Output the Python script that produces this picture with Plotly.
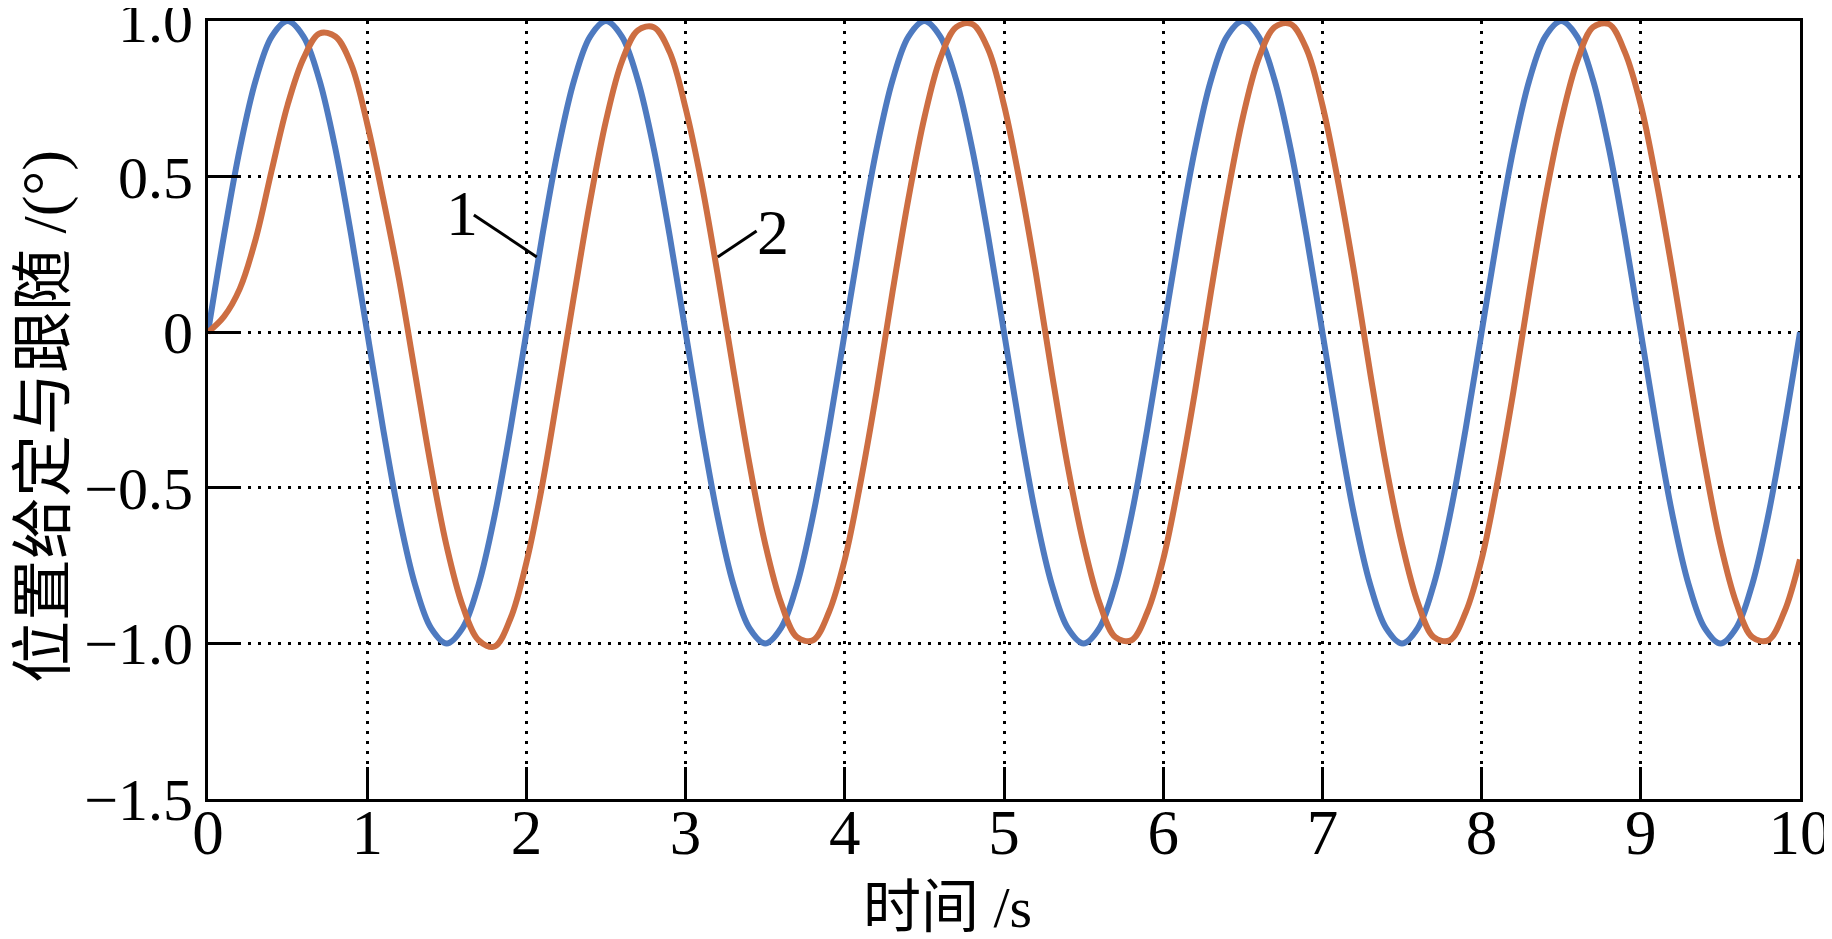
import plotly.graph_objects as go

# time samples (s)
time_s = [0.0, 0.1, 0.2, 0.3, 0.4, 0.5, 0.6, 0.7, 0.8, 0.9,
          1.0, 1.1, 1.2, 1.3, 1.4, 1.5, 1.6, 1.7, 1.8, 1.9,
          2.0, 2.1, 2.2, 2.3, 2.4, 2.5, 2.6, 2.7, 2.8, 2.9,
          3.0, 3.1, 3.2, 3.3, 3.4, 3.5, 3.6, 3.7, 3.8, 3.9,
          4.0, 4.1, 4.2, 4.3, 4.4, 4.5, 4.6, 4.7, 4.8, 4.9,
          5.0, 5.1, 5.2, 5.3, 5.4, 5.5, 5.6, 5.7, 5.8, 5.9,
          6.0, 6.1, 6.2, 6.3, 6.4, 6.5, 6.6, 6.7, 6.8, 6.9,
          7.0, 7.1, 7.2, 7.3, 7.4, 7.5, 7.6, 7.7, 7.8, 7.9,
          8.0, 8.1, 8.2, 8.3, 8.4, 8.5, 8.6, 8.7, 8.8, 8.9,
          9.0, 9.1, 9.2, 9.3, 9.4, 9.5, 9.6, 9.7, 9.8, 9.9,
          10.0]

# curve 1: position command (deg)
given = [0.0, 0.31, 0.59, 0.81, 0.95, 1.0, 0.95, 0.81, 0.59, 0.31,
         0.0, -0.31, -0.59, -0.81, -0.95, -1.0, -0.95, -0.81, -0.59, -0.31,
         0.0, 0.31, 0.59, 0.81, 0.95, 1.0, 0.95, 0.81, 0.59, 0.31,
         0.0, -0.31, -0.59, -0.81, -0.95, -1.0, -0.95, -0.81, -0.59, -0.31,
         0.0, 0.31, 0.59, 0.81, 0.95, 1.0, 0.95, 0.81, 0.59, 0.31,
         0.0, -0.31, -0.59, -0.81, -0.95, -1.0, -0.95, -0.81, -0.59, -0.31,
         0.0, 0.31, 0.59, 0.81, 0.95, 1.0, 0.95, 0.81, 0.59, 0.31,
         0.0, -0.31, -0.59, -0.81, -0.95, -1.0, -0.95, -0.81, -0.59, -0.31,
         0.0, 0.31, 0.59, 0.81, 0.95, 1.0, 0.95, 0.81, 0.59, 0.31,
         0.0, -0.31, -0.59, -0.81, -0.95, -1.0, -0.95, -0.81, -0.59, -0.31,
         0.0]

# curve 2: position follow (deg)
follow = [0.0, 0.05, 0.14, 0.30, 0.52, 0.73, 0.88, 0.96, 0.95, 0.86,
          0.67, 0.43, 0.17, -0.13, -0.43, -0.69, -0.88, -0.99, -1.01, -0.92,
          -0.74, -0.49, -0.19, 0.12, 0.42, 0.68, 0.87, 0.97, 0.98, 0.90,
          0.72, 0.48, 0.19, -0.12, -0.42, -0.68, -0.87, -0.98, -0.99, -0.90,
          -0.73, -0.48, -0.19, 0.13, 0.43, 0.69, 0.88, 0.98, 0.99, 0.91,
          0.73, 0.48, 0.19, -0.13, -0.43, -0.68, -0.87, -0.98, -0.99, -0.90,
          -0.73, -0.48, -0.19, 0.13, 0.43, 0.69, 0.88, 0.98, 0.99, 0.91,
          0.73, 0.48, 0.19, -0.13, -0.43, -0.68, -0.87, -0.98, -0.99, -0.90,
          -0.73, -0.48, -0.19, 0.13, 0.43, 0.68, 0.87, 0.98, 0.99, 0.90,
          0.73, 0.48, 0.19, -0.12, -0.42, -0.68, -0.87, -0.98, -0.99, -0.90,
          -0.73]

x_ticks = [0, 1, 2, 3, 4, 5, 6, 7, 8, 9, 10]
x_tick_text = ["0", "1", "2", "3", "4", "5", "6", "7", "8", "9", "10"]
y_ticks = [1.0, 0.5, 0.0, -0.5, -1.0, -1.5]
y_tick_text = ["1.0", "0.5", "0", "\u22120.5", "\u22121.0", "\u22121.5"]

BLUE = "#4E7AC0"
ORANGE = "#CD6E42"
FONT = "Liberation Serif, Times New Roman, Noto Sans CJK SC, serif"

fig = go.Figure()
fig.add_trace(go.Scatter(x=time_s, y=given, mode="lines",
                         line=dict(color=BLUE, width=6, shape="spline", smoothing=1.0),
                         showlegend=False))
fig.add_trace(go.Scatter(x=time_s, y=follow, mode="lines",
                         line=dict(color=ORANGE, width=6, shape="spline", smoothing=1.0),
                         showlegend=False))

axis_common = dict(
    showline=True, linecolor="black", linewidth=3, mirror=True,
    ticks="inside", ticklen=32, tickwidth=3, tickcolor="black",
    showgrid=True, gridcolor="black", gridwidth=3, griddash="3px,7px",
    zeroline=False, automargin=False, ticklabeloverflow="allow",
)

fig.update_xaxes(range=[0, 10], tickvals=x_ticks, ticktext=x_tick_text,
                 ticklabelstandoff=-24, tickfont=dict(family=FONT, size=63, color="black"),
                 **axis_common)
fig.update_yaxes(range=[-1.5, 1.0], tickvals=y_ticks, ticktext=y_tick_text,
                 ticklabelstandoff=0, tickfont=dict(family=FONT, size=60, color="black"),
                 **axis_common)

# leader lines for curve labels
fig.add_shape(type="line", xref="x", yref="y", x0=1.67, y0=0.377, x1=2.065, y1=0.242,
              line=dict(color="black", width=3))
fig.add_shape(type="line", xref="x", yref="y", x0=3.446, y0=0.325, x1=3.202, y1=0.242,
              line=dict(color="black", width=3))

fig.add_annotation(x=1.594, y=0.383, xref="x", yref="y", text="1", showarrow=False,
                   font=dict(family=FONT, size=64, color="black"))
fig.add_annotation(x=3.547, y=0.319, xref="x", yref="y", text="2", showarrow=False,
                   font=dict(family=FONT, size=64, color="black"))

# axis titles
fig.add_annotation(x=0.4642, y=-0.1401, xref="paper", yref="paper", text="时间 /s",
                   showarrow=False, xanchor="center", yanchor="middle",
                   font=dict(family=FONT, size=58, color="black"))
fig.add_annotation(x=-0.1030, y=0.4910, xref="paper", yref="paper", text="位置给定与跟随 /(°)",
                   showarrow=False, textangle=-90, xanchor="center", yanchor="middle",
                   font=dict(family=FONT, size=62, color="black"))

fig.update_layout(
    width=1824, height=931,
    margin=dict(l=200, r=32, t=13, b=140),
    paper_bgcolor="white", plot_bgcolor="white",
    font=dict(family=FONT, color="black"),
)

fig.write_html("out.html")
